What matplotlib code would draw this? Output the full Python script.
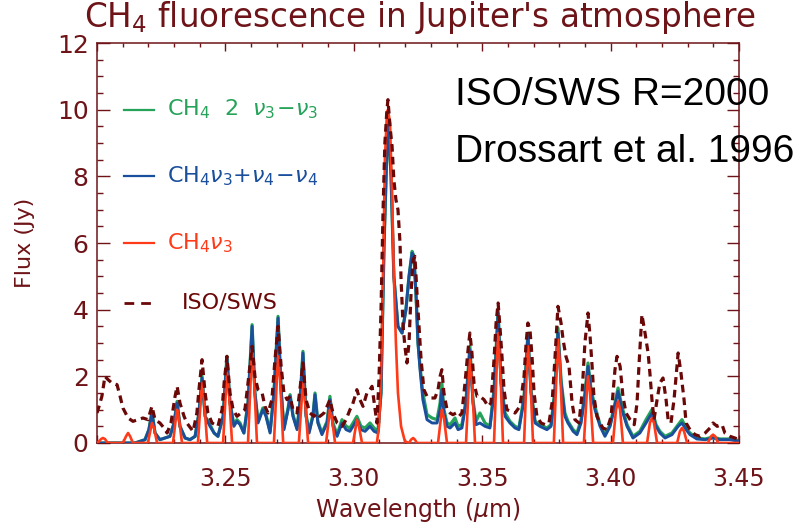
import matplotlib
matplotlib.use("Agg")
import matplotlib.pyplot as plt
from matplotlib.ticker import MultipleLocator, FixedLocator, FixedFormatter

# ---------------------------------------------------------------- data
# ISO/SWS observed spectrum (wavelength in micron, flux in Jy)
iso_wl = [3.2000, 3.2008, 3.2019, 3.2031, 3.2043, 3.2058, 3.2078, 3.2090, 3.2101, 3.2121,
          3.2140, 3.2160, 3.2179, 3.2199, 3.2206, 3.2214, 3.2226, 3.2245, 3.2261, 3.2273,
          3.2288, 3.2304, 3.2312, 3.2323, 3.2339, 3.2350, 3.2374, 3.2389, 3.2397, 3.2409,
          3.2421, 3.2432, 3.2448, 3.2471, 3.2487, 3.2495, 3.2506, 3.2518, 3.2530, 3.2545,
          3.2561, 3.2576, 3.2588, 3.2604, 3.2615, 3.2627, 3.2643, 3.2654, 3.2666, 3.2681,
          3.2693, 3.2705, 3.2717, 3.2728, 3.2740, 3.2752, 3.2763, 3.2779, 3.2790, 3.2802,
          3.2814, 3.2829, 3.2845, 3.2857, 3.2868, 3.2884, 3.2896, 3.2907, 3.2919, 3.2935,
          3.2954, 3.2970, 3.2985, 3.2993, 3.3005, 3.3012, 3.3024, 3.3036, 3.3051, 3.3063,
          3.3071, 3.3083, 3.3090, 3.3098, 3.3106, 3.3114, 3.3121, 3.3129, 3.3133, 3.3141,
          3.3149, 3.3156, 3.3164, 3.3172, 3.3180, 3.3184, 3.3192, 3.3199, 3.3207, 3.3215,
          3.3223, 3.3231, 3.3238, 3.3246, 3.3254, 3.3262, 3.3273, 3.3285, 3.3301, 3.3316,
          3.3328, 3.3336, 3.3343, 3.3351, 3.3363, 3.3375, 3.3386, 3.3398, 3.3410, 3.3421,
          3.3433, 3.3445, 3.3452, 3.3460, 3.3468, 3.3480, 3.3491, 3.3507, 3.3523, 3.3534,
          3.3546, 3.3554, 3.3562, 3.3569, 3.3577, 3.3585, 3.3596, 3.3612, 3.3628, 3.3647,
          3.3663, 3.3671, 3.3678, 3.3686, 3.3694, 3.3702, 3.3713, 3.3729, 3.3745, 3.3760,
          3.3772, 3.3783, 3.3795, 3.3807, 3.3815, 3.3826, 3.3838, 3.3850, 3.3861, 3.3877,
          3.3889, 3.3900, 3.3912, 3.3920, 3.3928, 3.3935, 3.3947, 3.3959, 3.3970, 3.3986,
          3.4002, 3.4017, 3.4025, 3.4037, 3.4048, 3.4060, 3.4076, 3.4092, 3.4103, 3.4111,
          3.4122, 3.4134, 3.4146, 3.4153, 3.4161, 3.4169, 3.4181, 3.4192, 3.4204, 3.4216,
          3.4224, 3.4235, 3.4247, 3.4263, 3.4274, 3.4286, 3.4294, 3.4309, 3.4329, 3.4348,
          3.4368, 3.4387, 3.4399, 3.4415, 3.4434, 3.4445, 3.4465, 3.4484, 3.4500]
iso_flux = [0.9, 1.1, 1.4, 2.0, 1.9, 1.8, 1.75, 1.4, 1.05, 0.75,
            0.65, 0.7, 0.75, 0.7, 0.9, 1.1, 0.7, 0.6, 0.45, 0.3,
            0.6, 1.4, 1.7, 1.2, 0.8, 0.6, 0.35, 0.9, 1.6, 2.5,
            1.5, 0.9, 0.6, 0.5, 1.0, 1.8, 2.6, 1.5, 1.0, 0.8,
            0.9, 1.0, 1.8, 2.9, 2.0, 1.6, 1.5, 1.1, 0.9, 1.3,
            2.5, 3.5, 2.3, 1.5, 1.3, 1.4, 1.0, 0.9, 1.6, 2.4,
            1.3, 0.9, 0.8, 0.9, 0.8, 0.9, 1.1, 1.3, 0.9, 0.6,
            0.5, 0.7, 1.0, 1.1, 1.4, 1.6, 1.3, 1.1, 1.5, 1.6,
            1.7, 1.0, 0.6, 1.9, 4.0, 7.0, 9.0, 10.0, 10.3, 9.5,
            8.9, 7.9, 7.3, 7.0, 6.0, 4.9, 3.5, 2.9, 2.4, 3.0,
            4.5, 5.5, 5.6, 4.5, 3.5, 2.5, 1.6, 1.4, 1.35, 1.35,
            1.6, 2.0, 2.2, 1.5, 1.0, 0.9, 0.85, 0.9, 0.8, 0.9,
            1.8, 2.8, 3.3, 2.7, 1.8, 1.4, 1.4, 1.3, 1.1, 1.2,
            2.5, 3.6, 4.2, 3.5, 2.6, 1.6, 1.0, 0.95, 0.9, 1.1,
            2.0, 3.0, 3.6, 3.4, 2.6, 1.5, 0.8, 0.6, 0.55, 0.6,
            1.2, 2.5, 4.1, 3.6, 3.1, 2.6, 2.3, 1.2, 0.7, 0.6,
            1.5, 3.0, 3.9, 3.2, 2.3, 1.4, 0.8, 0.6, 0.45, 0.4,
            0.8, 2.2, 2.6, 2.3, 1.4, 0.9, 0.7, 0.55, 1.2, 2.4,
            3.85, 3.3, 2.7, 2.1, 1.3, 0.7, 1.3, 1.8, 1.95, 1.3,
            0.7, 0.6, 1.3, 2.7, 2.1, 1.3, 0.6, 0.4, 0.25, 0.2,
            0.3, 0.45, 0.6, 0.5, 0.55, 0.3, 0.2, 0.15, 0.1]

# CH4 nu3 fluorescence model
nu3_wl = [3.2000, 3.2008, 3.2016, 3.2023, 3.2031, 3.2039, 3.2047,
          3.2101, 3.2113, 3.2121, 3.2129, 3.2140,
          3.2198, 3.2210, 3.2214, 3.2222, 3.2234,
          3.2296, 3.2308, 3.2312, 3.2319, 3.2331,
          3.2393, 3.2405, 3.2409, 3.2417, 3.2429,
          3.2491, 3.2502, 3.2506, 3.2514, 3.2526,
          3.2588, 3.2600, 3.2604, 3.2611, 3.2623,
          3.2689, 3.2701, 3.2705, 3.2713, 3.2725,
          3.2786, 3.2798, 3.2802, 3.2810, 3.2822,
          3.2892, 3.2904, 3.2907, 3.2915, 3.2927,
          3.2997, 3.3009, 3.3012, 3.3020, 3.3032,
          3.3090, 3.3098, 3.3106, 3.3114, 3.3121, 3.3129, 3.3133, 3.3141, 3.3149,
          3.3156, 3.3164, 3.3172, 3.3184, 3.3199,
          3.3215, 3.3223, 3.3231, 3.3238, 3.3246,
          3.3328, 3.3340, 3.3343, 3.3351, 3.3363,
          3.3437, 3.3449, 3.3452, 3.3460, 3.3472,
          3.3546, 3.3558, 3.3562, 3.3569, 3.3581,
          3.3663, 3.3674, 3.3678, 3.3686, 3.3698,
          3.3779, 3.3791, 3.3795, 3.3803, 3.3815,
          3.3896, 3.3908, 3.3912, 3.3920, 3.3932,
          3.4009, 3.4021, 3.4029, 3.4037, 3.4048,
          3.4142, 3.4153, 3.4161, 3.4169, 3.4181,
          3.4259, 3.4270, 3.4278, 3.4286, 3.4298,
          3.4379, 3.4391, 3.4399, 3.4407, 3.4419,
          3.4500]
nu3_flux = [0.0, 0.05, 0.12, 0.15, 0.12, 0.03, 0.0,
            0.0, 0.2, 0.3, 0.2, 0.0,
            0.0, 0.45, 0.6, 0.45, 0.0,
            0.0, 0.8, 1.0, 0.75, 0.0,
            0.0, 1.4, 1.8, 1.3, 0.0,
            0.0, 1.6, 2.1, 1.5, 0.0,
            0.0, 2.2, 2.8, 2.0, 0.0,
            0.0, 2.0, 2.6, 1.9, 0.0,
            0.0, 1.4, 1.8, 1.3, 0.0,
            0.0, 0.8, 1.0, 0.75, 0.0,
            0.0, 0.55, 0.7, 0.5, 0.0,
            0.0, 0.5, 2.0, 5.0, 8.5, 9.9, 10.0, 9.6, 7.5,
            5.0, 3.0, 1.5, 0.5, 0.05,
            0.0, 0.1, 0.15, 0.1, 0.0,
            0.0, 0.8, 1.0, 0.75, 0.0,
            0.0, 2.0, 2.5, 1.9, 0.0,
            0.0, 2.6, 3.3, 2.5, 0.0,
            0.0, 2.3, 2.9, 2.2, 0.0,
            0.0, 2.4, 3.1, 2.3, 0.0,
            0.0, 1.6, 2.0, 1.5, 0.0,
            0.0, 1.0, 1.25, 1.0, 0.0,
            0.0, 0.6, 0.75, 0.6, 0.0,
            0.0, 0.35, 0.45, 0.35, 0.0,
            0.0, 0.2, 0.25, 0.2, 0.0,
            0.0]

# Hot-band models: nu3+nu4-nu4 and 2nu3-nu3 (common wavelength grid)
hot_wl = [3.2000, 3.2148, 3.2167, 3.2187, 3.2202, 3.2214, 3.2226, 3.2245, 3.2265, 3.2284,
          3.2300, 3.2312, 3.2323, 3.2343, 3.2362, 3.2382, 3.2397, 3.2409, 3.2421, 3.2440,
          3.2456, 3.2471, 3.2491, 3.2506, 3.2518, 3.2533, 3.2545, 3.2557, 3.2572, 3.2588,
          3.2604, 3.2615, 3.2627, 3.2646, 3.2658, 3.2674, 3.2689, 3.2705, 3.2717, 3.2728,
          3.2744, 3.2752, 3.2763, 3.2779, 3.2790, 3.2802, 3.2814, 3.2826, 3.2841, 3.2849,
          3.2860, 3.2876, 3.2896, 3.2907, 3.2919, 3.2935, 3.2954, 3.2970, 3.2985, 3.3001,
          3.3012, 3.3028, 3.3044, 3.3063, 3.3079, 3.3094, 3.3106, 3.3118, 3.3133, 3.3145,
          3.3156, 3.3172, 3.3188, 3.3203, 3.3215, 3.3227, 3.3234, 3.3242, 3.3250, 3.3258,
          3.3269, 3.3285, 3.3305, 3.3324, 3.3336, 3.3343, 3.3351, 3.3363, 3.3375, 3.3394,
          3.3406, 3.3421, 3.3437, 3.3452, 3.3464, 3.3476, 3.3491, 3.3511, 3.3530, 3.3546,
          3.3562, 3.3573, 3.3589, 3.3608, 3.3628, 3.3643, 3.3663, 3.3678, 3.3690, 3.3706,
          3.3725, 3.3752, 3.3768, 3.3783, 3.3795, 3.3807, 3.3822, 3.3834, 3.3854, 3.3869,
          3.3885, 3.3900, 3.3912, 3.3924, 3.3939, 3.3959, 3.3978, 3.3998, 3.4013, 3.4029,
          3.4044, 3.4064, 3.4087, 3.4114, 3.4138, 3.4161, 3.4177, 3.4192, 3.4212, 3.4239,
          3.4263, 3.4278, 3.4294, 3.4309, 3.4336, 3.4368, 3.4399, 3.4426, 3.4465, 3.4500]
hot_nu34_flux = [0.0, 0.0, 0.05, 0.1, 0.4, 0.9, 0.3, 0.1, 0.15, 0.2,
                 0.6, 1.2, 0.5, 0.15, 0.1, 0.2, 0.9, 1.95, 0.8, 0.5,
                 0.3, 0.2, 0.8, 2.55, 1.2, 0.5, 0.65, 0.55, 0.3, 1.2,
                 3.5, 1.5, 0.6, 1.0, 0.8, 0.3, 1.5, 3.75, 1.6, 0.4,
                 1.0, 1.4, 0.8, 0.4, 1.2, 2.7, 0.8, 0.3, 0.8, 1.45,
                 0.6, 0.25, 0.6, 1.3, 0.5, 0.2, 0.6, 0.4, 0.35, 0.55,
                 0.7, 0.4, 0.35, 0.5, 0.35, 0.3, 1.5, 6.0, 9.8, 8.0,
                 5.0, 3.5, 3.3, 4.0, 5.0, 5.7, 5.6, 4.5, 3.0, 2.2,
                 1.3, 0.7, 0.6, 0.6, 1.0, 1.6, 0.9, 0.5, 0.45, 0.6,
                 0.4, 0.45, 1.2, 2.8, 1.2, 0.55, 0.6, 0.5, 0.45, 1.5,
                 3.9, 1.8, 0.8, 0.6, 0.45, 0.4, 1.3, 3.2, 1.5, 0.6,
                 0.5, 0.4, 0.5, 1.5, 3.3, 1.8, 0.8, 0.6, 0.35, 0.25,
                 0.6, 1.4, 2.3, 1.5, 1.0, 0.5, 0.2, 0.5, 1.0, 1.55,
                 1.0, 0.5, 0.15, 0.3, 0.6, 0.9, 0.5, 0.3, 0.15, 0.25,
                 0.5, 0.6, 0.4, 0.25, 0.12, 0.1, 0.15, 0.1, 0.1, 0.05]
hot_2nu3_flux = [0.0, 0.0, 0.05, 0.1, 0.4, 0.95, 0.3, 0.1, 0.15, 0.2,
                 0.6, 1.25, 0.5, 0.15, 0.1, 0.2, 0.9, 2.0, 0.8, 0.55,
                 0.3, 0.2, 0.8, 2.6, 1.2, 0.55, 0.7, 0.6, 0.3, 1.2,
                 3.55, 1.5, 0.65, 1.05, 0.85, 0.35, 1.5, 3.8, 1.6, 0.45,
                 1.05, 1.45, 0.85, 0.45, 1.2, 2.75, 0.85, 0.35, 0.85, 1.5,
                 0.65, 0.3, 0.65, 1.4, 0.6, 0.25, 0.7, 0.5, 0.45, 0.65,
                 0.8, 0.5, 0.45, 0.6, 0.45, 0.35, 1.5, 6.0, 9.8, 8.0,
                 5.0, 3.5, 3.3, 4.0, 5.0, 5.75, 5.6, 4.5, 3.0, 2.3,
                 1.5, 0.85, 0.75, 0.7, 1.2, 1.8, 1.0, 0.6, 0.55, 0.75,
                 0.5, 0.55, 1.3, 2.9, 1.3, 0.65, 0.9, 0.6, 0.5, 1.6,
                 4.0, 1.9, 0.9, 0.65, 0.5, 0.45, 1.4, 3.3, 1.6, 0.65,
                 0.55, 0.45, 0.55, 1.6, 3.45, 1.9, 0.9, 0.65, 0.4, 0.3,
                 0.7, 1.5, 2.4, 1.6, 1.1, 0.55, 0.25, 0.55, 1.05, 1.65,
                 1.1, 0.55, 0.2, 0.35, 0.7, 1.0, 0.55, 0.35, 0.2, 0.3,
                 0.55, 0.7, 0.45, 0.3, 0.15, 0.12, 0.18, 0.12, 0.12, 0.08]

x_ticks = [3.20, 3.25, 3.30, 3.35, 3.40, 3.45]
x_tick_labels = ["", "3.25", "3.30", "3.35", "3.40", "3.45"]
y_ticks = [0, 2, 4, 6, 8, 10, 12]

# ---------------------------------------------------------------- style
AXC = "#6e1418"      # maroon used for frame and text
C_GREEN = "#26a35a"
C_BLUE = "#1a4f9c"
C_RED = "#ff3a18"
C_ISO = "#6a0808"

W, H = 807, 526
fig = plt.figure(figsize=(W / 100, H / 100), dpi=100)
ax = fig.add_axes([97 / W, 1 - 443 / H, 642 / W, 400 / H])


def fx(px):
    return px / W


def fy(py):
    return 1 - py / H


ax.plot(hot_wl, hot_2nu3_flux, color=C_GREEN, lw=2.3, zorder=2)
ax.plot(hot_wl, hot_nu34_flux, color=C_BLUE, lw=2.1, zorder=3)
ax.plot(nu3_wl, nu3_flux, color=C_RED, lw=1.9, zorder=4)
ax.plot(iso_wl, iso_flux, color=C_ISO, lw=2.3, ls=(0, (2.4, 1.6)), zorder=5)

ax.set_xlim(3.20, 3.45)
ax.set_ylim(0, 12)

ax.xaxis.set_major_locator(FixedLocator(x_ticks))
ax.xaxis.set_major_formatter(FixedFormatter(x_tick_labels))
ax.xaxis.set_minor_locator(MultipleLocator(0.01))
ax.yaxis.set_major_locator(FixedLocator(y_ticks))
ax.yaxis.set_minor_locator(MultipleLocator(0.5))

for s in ax.spines.values():
    s.set_color(AXC)
    s.set_linewidth(1.1)

ax.tick_params(axis="both", which="both", direction="in", colors=AXC,
               top=True, right=True, labelcolor=AXC, width=1.0)
ax.tick_params(axis="x", which="major", length=6, pad=17, labelsize=17)
ax.tick_params(axis="x", which="minor", length=3)
ax.tick_params(axis="y", which="major", length=9, pad=6, labelsize=18)
ax.tick_params(axis="y", which="minor", length=4.5)

ax.set_xlabel(r"Wavelength ($\mu$m)", color=AXC, fontsize=17, labelpad=4)
ax.set_ylabel("Flux (Jy)", color=AXC, fontsize=16, labelpad=16)

fig.text(fx(420), fy(18), r"CH$_{4}$ fluorescence in Jupiter's atmosphere",
         color=AXC, fontsize=23.5, ha="center", va="center")

# legend drawn as short line samples with coloured labels
leg_x0, leg_x1, leg_tx = 3.2105, 3.2222, 3.2273
ax.plot([leg_x0, leg_x1], [10.0, 10.0], color=C_GREEN, lw=1.6)
ax.text(leg_tx, 10.0, r"CH$_4$  2  $\nu_3\!-\!\nu_3$", color=C_GREEN,
        fontsize=16, va="center", ha="left")
ax.plot([leg_x0, leg_x1], [8.0, 8.0], color=C_BLUE, lw=1.6)
ax.text(leg_tx, 8.0, r"CH$_4\nu_3$+$\nu_4\!-\!\nu_4$", color=C_BLUE,
        fontsize=16, va="center", ha="left")
ax.plot([leg_x0, leg_x1], [6.0, 6.0], color=C_RED, lw=1.6)
ax.text(leg_tx, 6.0, r"CH$_4\nu_3$", color=C_RED,
        fontsize=16, va="center", ha="left")
ax.plot([leg_x0, leg_x1], [4.2, 4.2], color=C_ISO, lw=2.0, ls=(0, (3.5, 2.5)))
ax.text(3.2331, 4.2, "ISO/SWS", color=C_ISO, fontsize=16, va="center", ha="left")

fig.text(fx(455), fy(95), "ISO/SWS R=2000", color="black",
         fontsize=28, family="Liberation Sans", ha="left", va="center")
fig.text(fx(455), fy(152), "Drossart et al. 1996", color="black",
         fontsize=28, family="Liberation Sans", ha="left", va="center")

fig.savefig("out.png", dpi=100)
